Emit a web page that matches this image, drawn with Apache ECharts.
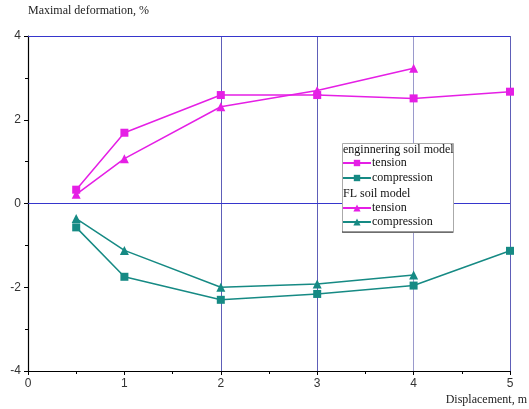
<!DOCTYPE html>
<html><head><meta charset="utf-8">
<script src="https://cdn.jsdelivr.net/npm/echarts@6/dist/echarts.min.js"></script>
<style>html,body{margin:0;padding:0;background:#fff}#c{width:529px;height:409px}</style>
</head><body><div id="c"></div>
<script>
const xEng = [0.5, 1, 2, 3, 4, 5];
const engTension = [0.33, 1.69, 2.59, 2.59, 2.51, 2.67];
const engCompression = [-0.57, -1.75, -2.30, -2.16, -1.96, -1.13];
const xFL = [0.5, 1, 2, 3, 4];
const flTension = [0.22, 1.07, 2.31, 2.70, 3.23];
const flCompression = [-0.36, -1.12, -2.00, -1.92, -1.71];
const xTicks = [0, 1, 2, 3, 4, 5];
const yTicks = [-4, -2, 0, 2, 4];
const vGridAt = [2, 3, 4, 5];
const hGridAt = [0, 4];

const MAG = '#e51fe5', TEAL = '#168a84', HBLUE = '#3636cc', VBLUE = '#5e5eb8';
const pair = (xs, ys) => xs.map((x, i) => [x, ys[i]]);
const serif = '"Liberation Serif", "DejaVu Serif", serif';

const chart = echarts.init(document.getElementById('c'));
const mk = (name, xs, ys, color, sym, size) => ({
  name, type: 'line', data: pair(xs, ys), symbol: sym, symbolSize: size,
  lineStyle: {color, width: 1.5}, itemStyle: {color}, z: 3
});
const grid = {left: 28, right: 19, top: 36, bottom: 38};
const lbl = {color: '#333', fontSize: 12, fontFamily: '"Liberation Sans", Arial, sans-serif', margin: 7};
const vLines = vGridAt.map(x => ({xAxis: x, lineStyle: {color: x === 4 ? '#9a9acc' : VBLUE, width: 1, type: 'solid'}, itemStyle: {color: VBLUE}}));
const hLines = hGridAt.map(y => ({yAxis: y, lineStyle: {color: HBLUE, width: 1.2, type: 'solid'}, itemStyle: {color: HBLUE}}));
chart.setOption({
  animation: false,
  grid,
  xAxis: {
    type: 'value', min: 0, max: 5, interval: 1,
    axisLine: {onZero: false, lineStyle: {color: '#000', width: 1.2}},
    axisTick: {show: true, length: 4, lineStyle: {color: '#000'}},
    minorTick: {show: true, splitNumber: 2, length: 3, lineStyle: {color: '#000'}},
    axisLabel: lbl,
    splitLine: {show: false}
  },
  yAxis: {
    type: 'value', min: -4, max: 4, interval: 2,
    axisLine: {onZero: false, lineStyle: {color: '#000', width: 1.2}},
    axisTick: {show: true, length: 4, lineStyle: {color: '#000'}},
    minorTick: {show: true, splitNumber: 2, length: 3, lineStyle: {color: '#000'}},
    axisLabel: lbl,
    splitLine: {show: false}
  },
  legend: [
    {data: ['eng tension', 'eng compression'], left: 342, top: 157, orient: 'vertical',
     itemWidth: 28, itemHeight: 8, itemGap: 3, z: 12, padding: 0,
     formatter: n => n.replace('eng ', ''),
     textStyle: {fontFamily: serif, fontSize: 12, color: '#111', padding: [0,0,0,-4]}},
    {data: ['fl tension', 'fl compression'], left: 342, top: 202, orient: 'vertical',
     itemWidth: 28, itemHeight: 9, itemGap: 2, z: 12, padding: 0,
     formatter: n => n.replace('fl ', ''),
     textStyle: {fontFamily: serif, fontSize: 12, color: '#111', padding: [0,0,0,-4]}}
  ],
  graphic: [
    {type: 'rect', left: 342, top: 143, z: 10, shape: {width: 111, height: 89},
     style: {fill: '#fff', stroke: '#aaa', lineWidth: 1}},
    {type: 'line', z: 11, shape: {x1: 342, y1: 232, x2: 453, y2: 232}, style: {stroke: '#333', lineWidth: 1}},
    {type: 'text', left: 343, top: 144, z: 12, style: {text: 'enginnering soil model', font: '12px ' + serif, fill: '#111'}},
    {type: 'text', left: 343, top: 188, z: 12, style: {text: 'FL soil model', font: '12px ' + serif, fill: '#111'}},
    {type: 'text', left: 28, top: 5, style: {text: 'Maximal deformation, %', font: '12px ' + serif, fill: '#222'}},
    {type: 'text', right: 2, top: 394, style: {text: 'Displacement, m', font: '12px ' + serif, fill: '#222'}}
  ],
  series: [
    {
      type: 'line', data: [], silent: true, color: HBLUE, z: 1,
      markLine: {
        silent: true, symbol: 'none', label: {show: false}, animation: false, z: 1,
        data: vLines.concat(hLines)
      }
    },
    mk('eng tension', xEng, engTension, MAG, 'rect', 8),
    mk('eng compression', xEng, engCompression, TEAL, 'rect', 8),
    mk('fl tension', xFL, flTension, MAG, 'triangle', 9),
    mk('fl compression', xFL, flCompression, TEAL, 'triangle', 9)
  ]
});
</script></body></html>
